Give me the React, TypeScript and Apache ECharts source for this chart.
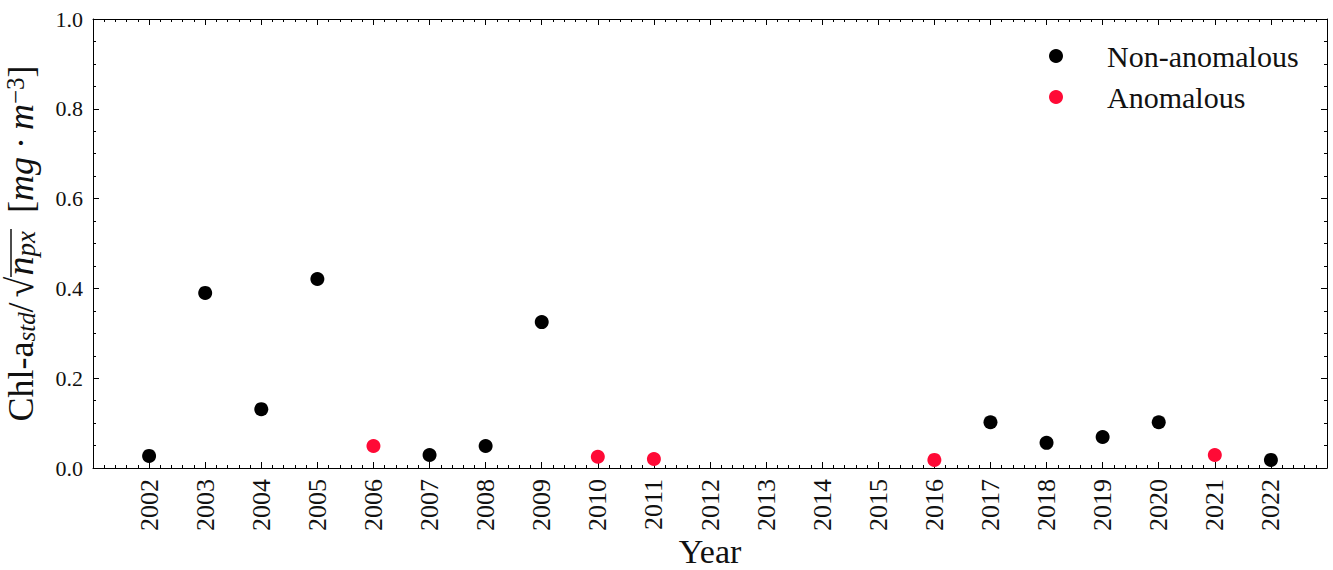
import React, { useEffect, useRef } from "react";
import * as echarts from "echarts";

const normalYears = [2002, 2003, 2004, 2005, 2007, 2008, 2009, 2017, 2018, 2019, 2020, 2022];
const normalValues = [0.027, 0.39, 0.131, 0.421, 0.029, 0.049, 0.325, 0.102, 0.056, 0.069, 0.102, 0.018];
const anomYears = [2006, 2010, 2011, 2016, 2021];
const anomValues = [0.049, 0.025, 0.02, 0.018, 0.029];
const seriesNames = ["Non-anomalous", "Anomalous"];
const yTicks = [0, 0.2, 0.4, 0.6, 0.8, 1.0];

const FONT = "Liberation Serif";

export default function App() {
  const ref = useRef<HTMLDivElement>(null);
  useEffect(() => {
    if (!ref.current) return;
    const chart = echarts.init(ref.current, null, { renderer: "svg" });
    const tickCommon = {
      axisLine: { show: true, onZero: false, lineStyle: { color: "#000", width: 1 } },
      axisTick: { show: true, inside: true, length: 6, lineStyle: { color: "#000" } },
      minorTick: { show: true, length: 3, lineStyle: { color: "#000" } },
      splitLine: { show: false },
    };
    const xBase = {
      type: "value",
      min: 2001,
      max: 2023,
      interval: 1,
      ...tickCommon,
      minorTick: { ...tickCommon.minorTick, splitNumber: 5 },
    };
    const yBase = {
      type: "value",
      min: yTicks[0],
      max: yTicks[yTicks.length - 1],
      interval: 0.2,
      ...tickCommon,
      minorTick: { ...tickCommon.minorTick, splitNumber: 4 },
    };
    chart.setOption({
      animation: false,
      backgroundColor: "#fff",
      grid: { left: 93, right: 6, top: 19, bottom: 102, outerBoundsMode: "none", containLabel: false },
      legend: {
        orient: "vertical",
        left: 1044,
        top: 36,
        icon: "circle",
        itemWidth: 92,
        itemHeight: 14,
        itemGap: 11,
        data: seriesNames,
        textStyle: { fontFamily: FONT, fontSize: 30, lineHeight: 30, color: "#111" },
      },
      graphic: [
        {
          type: "line",
          shape: { x1: 11, y1: 277, x2: 11, y2: 229 },
          style: { stroke: "#111", lineWidth: 1.5 },
          silent: true,
        },
      ],
      xAxis: [
        {
          ...xBase,
          position: "bottom",
          name: "Year",
          nameLocation: "middle",
          nameGap: 66,
          nameMoveOverlap: false,
          nameTextStyle: { fontFamily: FONT, fontSize: 34, color: "#111", lineHeight: 34 },
          axisLabel: {
            rotate: 90,
            margin: 11,
            fontFamily: FONT,
            fontSize: 26,
            color: "#111",
            formatter: (v: number) => (v < 2002 || v > 2022 ? "" : String(v)),
          },
        },
        { ...xBase, position: "top", axisLabel: { show: false } },
      ],
      yAxis: [
        {
          ...yBase,
          position: "left",
          name: "{n|Chl-a}{sub|std}{n|/}{sq|√}{nn|n}{psub|px}{br|[}{i|mg · m}{sup|−3}{n|]}",
          nameLocation: "middle",
          nameRotate: 90,
          nameGap: 54,
          nameMoveOverlap: false,
          nameTextStyle: {
            fontFamily: FONT,
            fontSize: 36,
            color: "#111",
            rich: {
              n: { fontFamily: FONT, fontSize: 36, color: "#111", verticalAlign: "bottom", lineHeight: 40 },
              br: { fontFamily: FONT, fontSize: 36, color: "#111", verticalAlign: "bottom", lineHeight: 40, padding: [0, 0, 0, 18] },
              sq: { fontFamily: FONT, fontSize: 38, color: "#111", verticalAlign: "bottom", lineHeight: 40, padding: [0, 1, 0, 5] },
              i: { fontFamily: FONT, fontSize: 36, fontStyle: "italic", color: "#111", verticalAlign: "bottom", lineHeight: 40 },
              nn: { fontFamily: FONT, fontSize: 38, fontStyle: "italic", color: "#111", verticalAlign: "bottom", lineHeight: 40 },
              sub: { fontFamily: FONT, fontSize: 25, fontStyle: "italic", color: "#111", verticalAlign: "bottom", lineHeight: 34 },
              psub: { fontFamily: FONT, fontSize: 27, fontStyle: "italic", color: "#111", verticalAlign: "bottom", lineHeight: 34 },
              sup: { fontFamily: FONT, fontSize: 25, color: "#111", verticalAlign: "top", lineHeight: 28, padding: [4, 0, 0, 0] },
            },
          },
          axisLabel: {
            margin: 10,
            fontFamily: FONT,
            fontSize: 22,
            color: "#111",
            formatter: (v: number) => v.toFixed(1),
          },
        },
        { ...yBase, position: "right", axisLabel: { show: false } },
      ],
      series: [
        {
          name: seriesNames[0],
          type: "scatter",
          symbol: "circle",
          symbolSize: 14,
          itemStyle: { color: "#000", opacity: 1 },
          data: normalYears.map((y, i) => [y, normalValues[i]]),
        },
        {
          name: seriesNames[1],
          type: "scatter",
          symbol: "circle",
          symbolSize: 14,
          itemStyle: { color: "#ff0a36", opacity: 1 },
          data: anomYears.map((y, i) => [y, anomValues[i]]),
        },
      ],
    });
    return () => chart.dispose();
  }, []);
  return (
    <div
      ref={ref}
      style={{ position: "absolute", left: 0, top: 0, width: 1333, height: 570 }}
    />
  );
}
